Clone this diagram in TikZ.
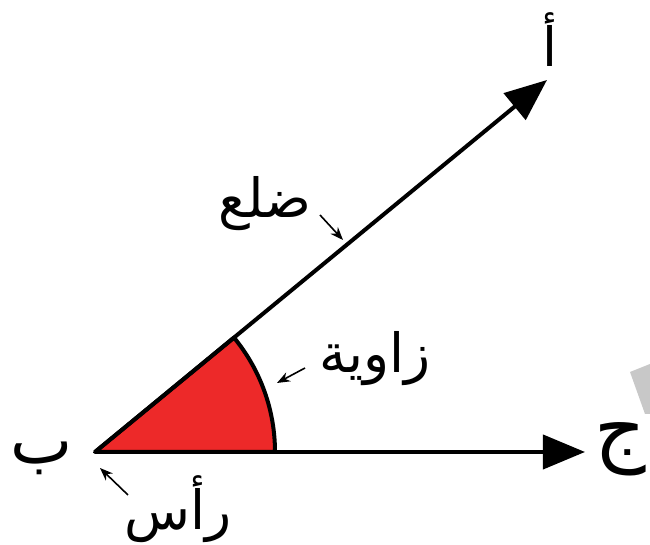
\documentclass[tikz,border=0pt]{standalone}
\usepackage{fontspec}
\newfontfamily\arabicfont[Script=Arabic]{DejaVu Sans}
\TeXXeTstate=1
\usetikzlibrary{arrows.meta}
\definecolor{sectorred}{RGB}{237,41,41}
\definecolor{scangray}{RGB}{200,200,200}
\begin{document}
\begin{tikzpicture}[x=0.5pt,y=0.5pt,
  ray/.style={line width=2pt, -{Triangle[length=21pt,width=17pt]}},
  lbl/.style={font=\arabicfont\fontsize{27}{31}\selectfont, inner sep=0pt},
  pointer/.style={line width=0.8pt, -{Stealth[length=6.5pt,width=5pt]}},
]
\useasboundingbox (0,0) rectangle (650,545);
\coordinate (B) at (95,93);
\coordinate (A) at (547,465);
\coordinate (C) at (585,93);
\fill[scangray] (630,173) -- (650,181) -- (650,131) -- (645,131) -- cycle;
\filldraw[fill=sectorred, line width=2pt, line join=round]
  (B) -- ++(180,0) arc[start angle=0, end angle=39.45, radius=180] -- cycle;
\draw[ray] (B) -- (A);
\draw[ray] (B) -- (C);
\node[lbl] (la) at (550,505) {\beginR أ\endR};
\node[lbl, font=\arabicfont\fontsize{33}{37}\selectfont] (lb) at (42,87) {\beginR ب\endR};
\node[lbl, font=\arabicfont\fontsize{40}{44}\selectfont] (lc) at (620,96) {\beginR ج\endR};
\node[lbl] (side) at (265,341) {\beginR ضلع\endR};
\node[lbl] (angle) at (375,186) {\beginR زاوية\endR};
\node[lbl] (vertex) at (178,36) {\beginR رأس\endR};
\coordinate (sideS) at (320,330);
\coordinate (sideE) at (343,305);
\coordinate (angS) at (305,177);
\coordinate (angE) at (277,162);
\coordinate (vtxS) at (128,50);
\coordinate (vtxE) at (100,77);
\draw[pointer] (sideS) -- (sideE);
\draw[pointer] (angS) -- (angE);
\draw[pointer] (vtxS) -- (vtxE);
\end{tikzpicture}
\end{document}
